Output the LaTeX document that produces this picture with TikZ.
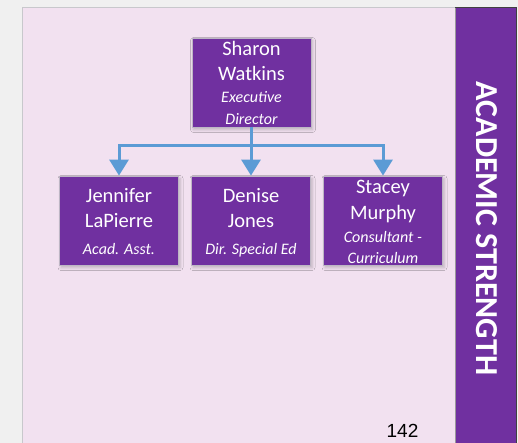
\documentclass[tikz,border=0pt]{standalone}
\usepackage{fontspec}
\setmainfont{Carlito}
\newfontfamily\numfont{Liberation Sans}
\usetikzlibrary{arrows.meta,shadows.blur}

\definecolor{deskgray}{HTML}{F0F0F0}
\definecolor{pagepink}{HTML}{F2E1F0}
\definecolor{pageedge}{HTML}{C8C8CC}
\definecolor{boxpurple}{HTML}{7030A0}
\definecolor{boxedge}{HTML}{BDB6C4}
\definecolor{linkblue}{HTML}{5B9BD5}

\tikzset{
  orgbox/.style={draw=boxedge, line width=0.8pt, fill=boxpurple,
    minimum width=119pt, minimum height=89pt, inner sep=0pt,
    blur shadow={shadow xshift=1.5pt, shadow yshift=-2.5pt,
      shadow blur radius=3pt, shadow opacity=22}},
  nameline/.style={text=white, anchor=base, inner sep=0pt,
    font=\fontsize{20.5}{24}\selectfont},
  roleline/.style={text=white, anchor=base, inner sep=0pt,
    font=\fontsize{16}{19}\selectfont\itshape},
  link/.style={draw=linkblue, line width=3pt,
    -{Triangle[width=19pt,length=16pt]}},
}

\begin{document}
\begin{tikzpicture}[x=1pt,y=-1pt]
  % canvas and page
  \fill[deskgray] (0,0) rectangle (518,443);
  \useasboundingbox (0,0) rectangle (518,443);
  \fill[pagepink] (22,7) rectangle (456,443);
  \draw[pageedge, line width=1.2pt] (22.6,443) -- (22.6,7.6) -- (456,7.6);

  % side banner
  \fill[boxpurple] (455,7) rectangle (516.5,443);
  \draw[black!75, line width=1pt] (455,7.5) -- (516,7.5) -- (516,443);
  \draw[gray!80, line width=1.4pt] (455.7,8) -- (455.7,443);
  \node[rotate=-90, text=white, inner sep=0pt,
    font=\fontsize{32}{36}\selectfont\bfseries] (banner) at (486.5,228.5)
    {ACADEMIC STRENGTH};

  % org chart boxes
  \node[orgbox] (dir) at (251.5,82.5) {};
  \node[orgbox] (jen) at (119,220.5) {};
  \node[orgbox] (den) at (251,220.5) {};
  \node[orgbox] (sta) at (383,220.5) {};

  % box texts
  \node[nameline] (dir1) at (251.5,56)  {Sharon};
  \node[nameline] (dir2) at (251.5,81)  {Watkins};
  \node[roleline] (dir3) at (251.5,103) {Executive};
  \node[roleline] (dir4) at (251.5,125) {Director};

  \node[nameline] (jen1) at (119,203) {Jennifer};
  \node[nameline] (jen2) at (119,228) {LaPierre};
  \node[roleline] (jen3) at (119,254) {Acad. Asst.};

  \node[nameline] (den1) at (251,203) {Denise};
  \node[nameline] (den2) at (251,228) {Jones};
  \node[roleline] (den3) at (251,254) {Dir. Special Ed};

  \node[nameline] (sta1) at (383,194) {Stacey};
  \node[nameline] (sta2) at (383,220) {Murphy};
  \node[roleline] (sta3) at (383,242) {Consultant -};
  \node[roleline] (sta4) at (383,263) {Curriculum};

  % connectors
  \coordinate (bus) at (251.5,145.5);
  \draw[link] (dir.south) -- (bus) -| (jen.north);
  \draw[link] (dir.south) -- (bus) -| (den.north);
  \draw[link] (dir.south) -- (bus) -| (sta.north);

  % page number
  \node[anchor=base, inner sep=0pt, font=\numfont\fontsize{19}{22}\selectfont]
    (pageno) at (402.5,437) {142};
\end{tikzpicture}
\end{document}
